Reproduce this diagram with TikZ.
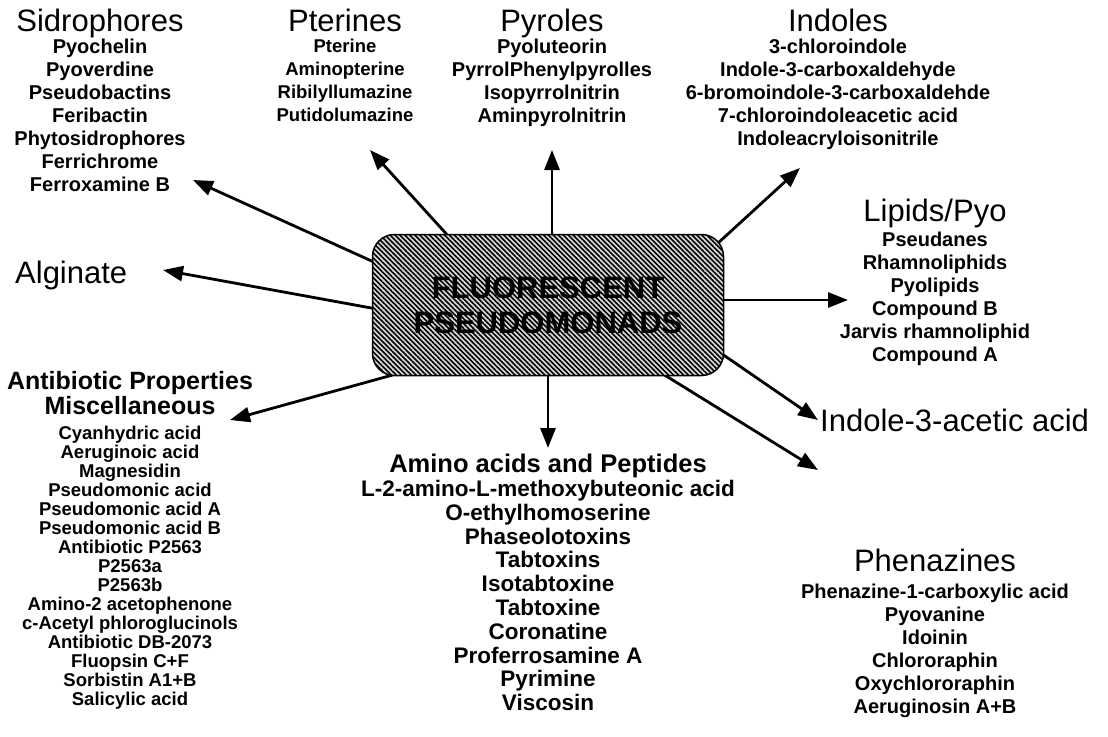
\documentclass[tikz,border=0pt]{standalone}
\usepackage{fontspec}
\setmainfont{Liberation Sans}
\usetikzlibrary{positioning, arrows.meta, patterns.meta, backgrounds}

\tikzset{
  grouptitle/.style={font=\fontsize{31}{34}\selectfont, inner sep=0pt, anchor=base},
  itemlist/.style={font=\bfseries\fontsize{20}{23}\selectfont, align=center, inner sep=0pt, anchor=north},
  smalllist/.style={itemlist, font=\bfseries\fontsize{18.5}{19}\selectfont},
  subtitle/.style={font=\bfseries\fontsize{25}{25}\selectfont, align=center, inner sep=0pt},
  centrebox/.style={draw, line width=1.5pt, rounded corners=22pt,
        minimum width=351pt, minimum height=141pt,
        preaction={fill=gray!30},
        pattern={Lines[angle=-45, distance=3.5pt, line width=1.6pt]},
        font=\bfseries\fontsize{31}{35}\selectfont, align=center},
  feed/.style={line width=2.8pt, shorten <=-8pt, -{Triangle[length=20pt, width=15pt]}},
}

\begin{document}
\begin{tikzpicture}[x=1pt, y=-1pt]
  \useasboundingbox (0,0) rectangle (1108,736);

  \node[centrebox] (cen) at (548,305) {FLUORESCENT\\PSEUDOMONADS};

  % groups above
  \node[grouptitle] (sidT) at (100,31) {Sidrophores};
  \node[itemlist, below=8pt of sidT.base] (sidL) {Pyochelin\\Pyoverdine\\Pseudobactins\\Feribactin\\Phytosidrophores\\Ferrichrome\\Ferroxamine B};

  \node[grouptitle] (ptrT) at (345,31) {Pterines};
  \node[itemlist, font=\bfseries\fontsize{18.5}{23}\selectfont, below=8pt of ptrT.base] (ptrL) {Pterine\\Aminopterine\\Ribilyllumazine\\Putidolumazine};

  \node[grouptitle] (pyrT) at (552,31) {Pyroles};
  \node[itemlist, below=8pt of pyrT.base] (pyrL) {Pyoluteorin\\PyrrolPhenylpyrolles\\Isopyrrolnitrin\\Aminpyrolnitrin};

  \node[grouptitle] (indT) at (838,31) {Indoles};
  \node[itemlist, below=8pt of indT.base] (indL) {3-chloroindole\\Indole-3-carboxaldehyde\\6-bromoindole-3-carboxaldehde\\7-chloroindoleacetic acid\\Indoleacryloisonitrile};

  % right side
  \node[grouptitle] (lipT) at (935,221) {Lipids/Pyo};
  \node[itemlist, below=11pt of lipT.base] (lipL) {Pseudanes\\Rhamnoliphids\\Pyolipids\\Compound B\\Jarvis rhamnoliphid\\Compound A};

  \node[grouptitle, anchor=base west] (iaaT) at (820,431) {Indole-3-acetic acid};

  \node[grouptitle] (phzT) at (935,571) {Phenazines};
  \node[itemlist, below=13pt of phzT.base] (phzL) {Phenazine-1-carboxylic acid\\Pyovanine\\Idoinin\\Chlororaphin\\Oxychlororaphin\\Aeruginosin A+B};

  % left side
  \node[grouptitle, anchor=base west] (algT) at (15,283) {Alginate};

  \node[subtitle, anchor=north] (antT) at (130,371) {Antibiotic Properties\\Miscellaneous};
  \node[smalllist, below=11pt of antT] (antL) {Cyanhydric acid\\Aeruginoic acid\\Magnesidin\\Pseudomonic acid\\Pseudomonic acid A\\Pseudomonic acid B\\Antibiotic P2563\\P2563a\\P2563b\\Amino-2 acetophenone\\c-Acetyl phloroglucinols\\Antibiotic DB-2073\\Fluopsin C+F\\Sorbistin A1+B\\Salicylic acid};

  % below
  \node[subtitle, font=\bfseries\fontsize{25.5}{26}\selectfont, anchor=base] (amiT) at (548,472) {Amino acids and Peptides};
  \node[itemlist, font=\bfseries\fontsize{22.5}{23.8}\selectfont, below=8pt of amiT.base] (amiL) {L-2-amino-L-methoxybuteonic acid\\O-ethylhomoserine\\Phaseolotoxins\\Tabtoxins\\Isotabtoxine\\Tabtoxine\\Coronatine\\Proferrosamine A\\Pyrimine\\Viscosin};

  % arrow tips
  \coordinate (sidTip) at (193,180);
  \coordinate (algTip) at (163,270);
  \coordinate (antTip) at (230,420);
  \coordinate (ptrTip) at (370,150);
  \coordinate (pyrTip) at (552,150);
  \coordinate (indTip) at (800,168);
  \coordinate (lipTip) at (848,300);
  \coordinate (iaaTip) at (818,420);
  \coordinate (phzTip) at (818,470);
  \coordinate (amiTip) at (548,448);

  \begin{scope}[on background layer]
    \draw[feed] (cen.166) -- (sidTip);
    \draw[feed] (cen.181) -- (algTip);
    \draw[feed] (cen.204) -- (antTip);
    \draw[feed] (cen.145) -- (ptrTip);
    \draw[feed] (cen.north -| pyrTip) -- (pyrTip);
    \draw[feed] (cen.21) -- (indTip);
    \draw[feed] (cen.east |- lipTip) -- (lipTip);
    \draw[feed] (cen.344) -- (iaaTip);
    \draw[feed] (cen.329) -- (phzTip);
    \draw[feed] (cen.south -| amiTip) -- (amiTip);
  \end{scope}
\end{tikzpicture}
\end{document}
